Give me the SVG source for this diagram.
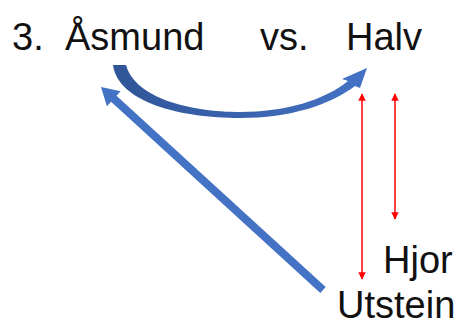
<svg xmlns="http://www.w3.org/2000/svg" width="463" height="327" viewBox="0 0 463 327">
<style>
.lbl{font-family:"Liberation Sans",Arial,sans-serif;font-size:38px;fill:#111}
.red{stroke:#FF0000;stroke-width:1.5;fill:none}
.blue{fill:#4472C4}
</style>
<defs>
<linearGradient id="cg" x1="0" y1="0" x2="1" y2="0">
<stop offset="0" stop-color="#2F5597"/>
<stop offset="0.5" stop-color="#3A63AE"/>
<stop offset="1" stop-color="#4472C4"/>
</linearGradient>
<marker id="rh" viewBox="0 0 10 10" refX="9" refY="5" markerWidth="5" markerHeight="5" orient="auto-start-reverse" markerUnits="strokeWidth">
<path d="M0,0 L10,5 L0,10 Z" fill="#FF0000"/>
</marker>
</defs>
<rect width="463" height="327" fill="#fff"/>
<g id="title">
<text class="lbl" x="12" y="50">3.</text>
</g>
<g id="asmund"><text class="lbl" x="65" y="50">Åsmund</text></g>
<g id="vs"><text class="lbl" x="260" y="50">vs.</text></g>
<g id="halv"><text class="lbl" x="346" y="50">Halv</text></g>
<g id="hjor"><text class="lbl" x="383" y="273">Hjor</text></g>
<g id="utstein"><text class="lbl" x="337" y="318">Utstein</text></g>
<g id="connectors">
<path fill="url(#cg)" d="M113,65 C118,102 180,118 240,118 C290,118 330,105 355,86 L360,88 L367,68 L342,79 L348,81 C325,100 285,112 240,112 C190,112 135,98 126,65 Z"/>
<polygon class="blue" points="325.7,287 116.5,95.8 120.6,91.3 101,87 106.9,106.2 111.1,101.8 320.3,293"/>
<line class="red" x1="362" y1="94" x2="362" y2="279" marker-start="url(#rh)" marker-end="url(#rh)"/>
<line class="red" x1="395" y1="94" x2="395" y2="219" marker-start="url(#rh)" marker-end="url(#rh)"/>
</g>
</svg>
